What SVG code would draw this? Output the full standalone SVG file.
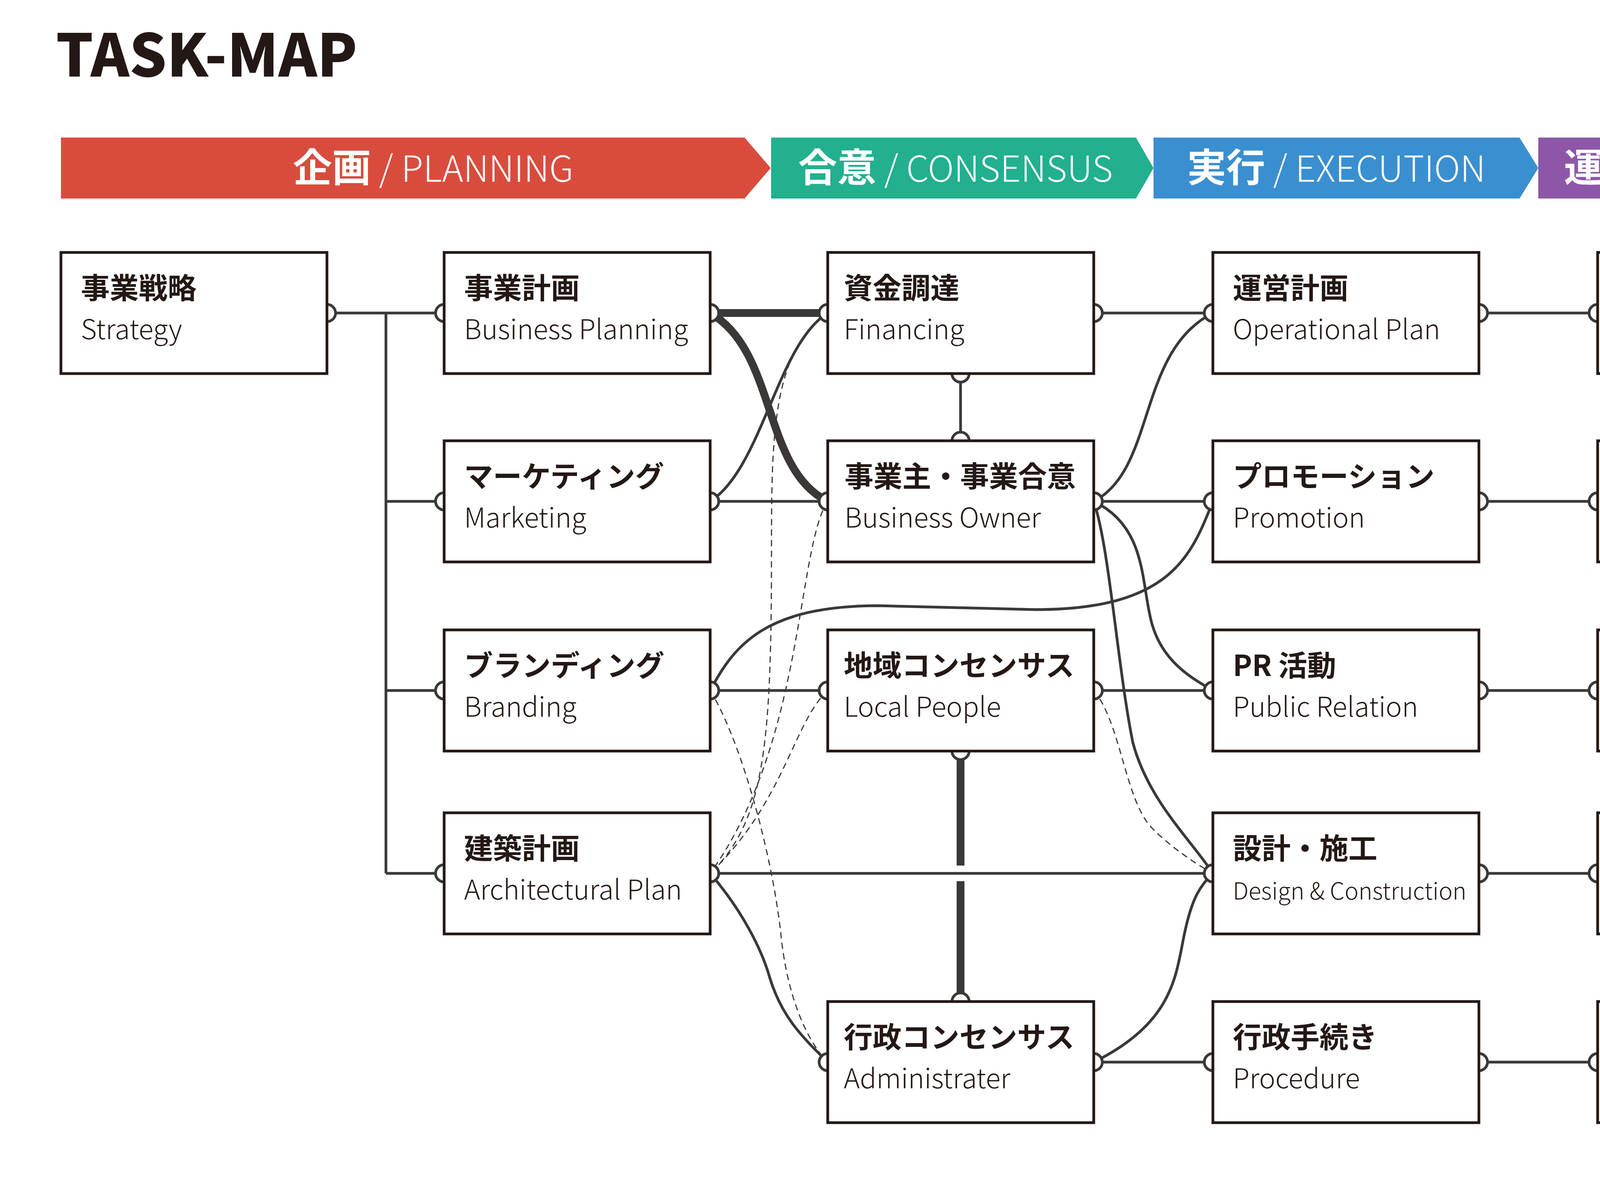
<svg xmlns="http://www.w3.org/2000/svg" width="4961" height="3012" viewBox="0 0 4961 3012">
<style>
.box{fill:#fff;stroke:#231815;stroke-width:7}
.port{fill:#fff;stroke:#3b3838;stroke-width:7}
.c{fill:none;stroke:#3b3838;stroke-width:7}
.thick{fill:none;stroke:#3b3838;stroke-width:20}
.d{fill:none;stroke:#3b3838;stroke-width:3;stroke-dasharray:16 11}
.jp{font-family:"Noto Sans CJK JP","Noto Sans",sans-serif;font-weight:700;font-size:74px;fill:#231815}
.en{font-family:"Noto Sans CJK JP","Noto Sans",sans-serif;font-weight:300;font-size:70px;fill:#231815}
.sm{font-size:60px}
.hj{font-family:"Noto Sans CJK JP",sans-serif;font-weight:700;font-size:100px;fill:#fff}
.he{font-family:"Noto Sans CJK JP","Noto Sans",sans-serif;font-weight:300;font-size:92px;fill:#fff}
</style>
<rect width="4961" height="3012" fill="#fff"/>
<text x="143" y="196" font-family="Noto Sans CJK JP,Liberation Sans,sans-serif" font-weight="900" font-size="150" fill="#231815">TASK-MAP</text>
<g id="phases">
<polygon points="156,352 1906,352 1973,430 1906,508 156,508" fill="#D94C3D"/>
<polygon points="1974,352 2908,352 2953,430 2908,508 1974,508" fill="#22B08E"/>
<polygon points="2953,352 3890,352 3938,430 3890,508 2953,508" fill="#3A8FD0"/>
<polygon points="3938,352 4809,352 4853,430 4809,508 3938,508" fill="#8E56A8"/>
<text x="1109" y="465" text-anchor="middle"><tspan class="hj">企画</tspan><tspan class="he"> / PLANNING</tspan></text>
<text x="2446" y="465" text-anchor="middle"><tspan class="hj">合意</tspan><tspan class="he"> / CONSENSUS</tspan></text>
<text x="3421" y="465" text-anchor="middle"><tspan class="hj">実行</tspan><tspan class="he"> / EXECUTION</tspan></text>
<text x="4388" y="465" text-anchor="middle"><tspan class="hj">運用</tspan><tspan class="he"> / OPERATION</tspan></text>
</g>
<g id="connectors">
<path class="c" d="M837,801 H1137 M988,801 V2235 M988,1283 H1137 M988,1767 H1137 M988,2235 H1137"/>
<path class="thick" d="M1818,801 H2119"/>
<path class="thick" d="M1818,801 C1990,900 1950,1200 2119,1283"/>
<path class="c" d="M1818,1283 C1950,1200 1990,880 2119,801"/>
<path class="c" d="M1818,1283 H2119 M1818,1767 H2119 M1818,2235 H3105"/>
<path class="d" d="M2119,801 C1980,900 1975,1100 1975,1400 C1975,1900 1960,2100 1818,2235"/>
<path class="d" d="M2119,1283 C2040,1400 2060,1900 1818,2235"/>
<path class="d" d="M2119,1767 C2030,1850 2010,2050 1818,2235"/>
<path class="d" d="M1818,1767 C1900,1900 1980,2200 2000,2400 C2020,2580 2080,2680 2119,2718"/>
<path class="c" d="M1818,2235 C1900,2330 1950,2430 1970,2500 C2000,2600 2050,2650 2119,2718"/>
<path class="c" d="M1818,1767 C1880,1650 1960,1550 2250,1550 L2650,1560 C3000,1560 3050,1420 3105,1283"/>
<path class="c" d="M2459,956 V1128"/>
<path class="thick" d="M2459,1922 V2215 M2459,2255 V2563"/>
<path class="c" d="M2800,801 H3105 M2800,1283 H3105 M2800,1767 H3105 M2800,2718 H3105"/>
<path class="c" d="M2800,1283 C2960,1200 2910,900 3105,801"/>
<path class="c" d="M2800,1283 C2940,1350 2920,1500 2950,1600 C2980,1700 3060,1740 3105,1767"/>
<path class="c" d="M2800,1283 C2840,1400 2860,1700 2900,1900 C2940,2050 3050,2150 3105,2235"/>
<path class="d" d="M2800,1767 C2870,1850 2880,2050 2950,2120 C3000,2170 3060,2210 3105,2235"/>
<path class="c" d="M2800,2718 C3000,2620 3010,2500 3030,2400 C3050,2300 3070,2270 3105,2235"/>
<path class="c" d="M3786,801 H4090 M3786,1283 H4090 M3786,1767 H4090 M3786,2235 H4090 M3786,2718 H4090"/>
</g>
<g id="ports">
<circle class="port" cx="837" cy="801" r="22"/>
<circle class="port" cx="1137" cy="801" r="22"/><circle class="port" cx="1137" cy="1283" r="22"/><circle class="port" cx="1137" cy="1767" r="22"/><circle class="port" cx="1137" cy="2235" r="22"/>
<circle class="port" cx="1818" cy="801" r="22"/><circle class="port" cx="1818" cy="1283" r="22"/><circle class="port" cx="1818" cy="1767" r="22"/><circle class="port" cx="1818" cy="2235" r="22"/>
<circle class="port" cx="2119" cy="801" r="22"/><circle class="port" cx="2119" cy="1283" r="22"/><circle class="port" cx="2119" cy="1767" r="22"/><circle class="port" cx="2119" cy="2718" r="22"/>
<circle class="port" cx="2800" cy="801" r="22"/><circle class="port" cx="2800" cy="1283" r="22"/><circle class="port" cx="2800" cy="1767" r="22"/><circle class="port" cx="2800" cy="2718" r="22"/>
<circle class="port" cx="2459" cy="956" r="22"/><circle class="port" cx="2459" cy="1128" r="22"/><circle class="port" cx="2459" cy="1922" r="22"/><circle class="port" cx="2459" cy="2563" r="22"/>
<circle class="port" cx="3105" cy="801" r="22"/><circle class="port" cx="3105" cy="1283" r="22"/><circle class="port" cx="3105" cy="1767" r="22"/><circle class="port" cx="3105" cy="2235" r="22"/><circle class="port" cx="3105" cy="2718" r="22"/>
<circle class="port" cx="3786" cy="801" r="22"/><circle class="port" cx="3786" cy="1283" r="22"/><circle class="port" cx="3786" cy="1767" r="22"/><circle class="port" cx="3786" cy="2235" r="22"/><circle class="port" cx="3786" cy="2718" r="22"/>
<circle class="port" cx="4090" cy="801" r="22"/><circle class="port" cx="4090" cy="1283" r="22"/><circle class="port" cx="4090" cy="1767" r="22"/><circle class="port" cx="4090" cy="2235" r="22"/><circle class="port" cx="4090" cy="2718" r="22"/>
</g>
<g id="strategy"><rect class="box" x="156" y="646" width="681" height="310"/><text class="jp" x="207" y="764">事業戦略</text><text class="en" x="207" y="868">Strategy</text></g>
<g id="business-planning"><rect class="box" x="1137" y="646" width="681" height="310"/><text class="jp" x="1188" y="764">事業計画</text><text class="en" x="1188" y="868">Business Planning</text></g>
<g id="marketing"><rect class="box" x="1137" y="1128" width="681" height="310"/><text class="jp" x="1188" y="1246">マーケティング</text><text class="en" x="1188" y="1350">Marketing</text></g>
<g id="branding"><rect class="box" x="1137" y="1612" width="681" height="310"/><text class="jp" x="1188" y="1730">ブランディング</text><text class="en" x="1188" y="1834">Branding</text></g>
<g id="architectural-plan"><rect class="box" x="1137" y="2080" width="681" height="310"/><text class="jp" x="1188" y="2198">建築計画</text><text class="en" x="1188" y="2302">Architectural Plan</text></g>
<g id="financing"><rect class="box" x="2119" y="646" width="681" height="310"/><text class="jp" x="2160" y="764">資金調達</text><text class="en" x="2160" y="868">Financing</text></g>
<g id="business-owner"><rect class="box" x="2119" y="1128" width="681" height="310"/><text class="jp" x="2162" y="1246">事業主・事業合意</text><text class="en" x="2162" y="1350">Business Owner</text></g>
<g id="local-people"><rect class="box" x="2119" y="1612" width="681" height="310"/><text class="jp" x="2160" y="1730">地域コンセンサス</text><text class="en" x="2160" y="1834">Local People</text></g>
<g id="administrater"><rect class="box" x="2119" y="2563" width="681" height="310"/><text class="jp" x="2160" y="2681">行政コンセンサス</text><text class="en" x="2160" y="2785">Administrater</text></g>
<g id="operational-plan"><rect class="box" x="3105" y="646" width="681" height="310"/><text class="jp" x="3156" y="764">運営計画</text><text class="en" x="3156" y="868">Operational Plan</text></g>
<g id="promotion"><rect class="box" x="3105" y="1128" width="681" height="310"/><text class="jp" x="3156" y="1246">プロモーション</text><text class="en" x="3156" y="1350">Promotion</text></g>
<g id="pr"><rect class="box" x="3105" y="1612" width="681" height="310"/><text class="jp" x="3156" y="1730">PR 活動</text><text class="en" x="3156" y="1834">Public Relation</text></g>
<g id="design"><rect class="box" x="3105" y="2080" width="681" height="310"/><text class="jp" x="3156" y="2198">設計・施工</text><text class="en sm" x="3156" y="2302">Design &amp; Construction</text></g>
<g id="procedure"><rect class="box" x="3105" y="2563" width="681" height="310"/><text class="jp" x="3156" y="2681">行政手続き</text><text class="en" x="3156" y="2785">Procedure</text></g>
<g id="operation"><rect class="box" x="4090" y="646" width="681" height="310"/><text class="jp" x="4141" y="764">運営管理</text><text class="en" x="4141" y="868">Operation</text></g>
<g id="tenant-leasing"><rect class="box" x="4090" y="1128" width="681" height="310"/><text class="jp" x="4141" y="1246">リーシング</text><text class="en" x="4141" y="1350">Tenant Leasing</text></g>
<g id="relationship-local"><rect class="box" x="4090" y="1612" width="681" height="310"/><text class="jp" x="4141" y="1730">地域・関係構築</text><text class="en" x="4141" y="1834">Relationship Mng</text></g>
<g id="building-maintenance"><rect class="box" x="4090" y="2080" width="681" height="310"/><text class="jp" x="4141" y="2198">建物維持管理</text><text class="en sm" x="4141" y="2298">Building Maintenance</text></g>
<g id="relationship-admin"><rect class="box" x="4090" y="2563" width="681" height="310"/><text class="jp" x="4141" y="2681">行政・関係構築</text><text class="en" x="4141" y="2785">Relationship Mng</text></g>
</svg>
